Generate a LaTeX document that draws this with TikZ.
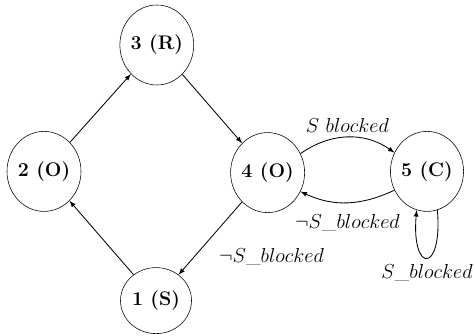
\documentclass[tikz,border=0pt]{standalone}
\usetikzlibrary{shapes.geometric}

\begin{document}
\begin{tikzpicture}[
  state/.style={ellipse,draw,minimum width=1.775cm,minimum height=2cm,inner sep=0pt,font=\fontsize{14}{17}\selectfont\bfseries},
  trans/.style={-latex,line width=0.6pt},
  lbl/.style={font=\fontsize{15}{18}\selectfont}
]
\useasboundingbox (0,0) rectangle (11.875,8.375);

\node[state] (s3) at (3.92,7.25) {3 (R)};
\node[state] (s2) at (1.1,4.09) {2 (O)};
\node[state] (s4) at (6.69,4.06) {4 (O)};
\node[state,minimum height=1.65cm] (s1) at (3.9,0.86) {1 (S)};
\node[state] (s5) at (10.675,4.09) {5 (C)};

\draw[trans] (s2) -- (s3);
\draw[trans] (s3) -- (s4);
\draw[trans] (s4) -- node[lbl,pos=0.75,right=14pt] {$\neg S\_blocked$} (s1);
\draw[trans] (s1) -- (s2);

\draw[trans] (s4.30) to[out=35,in=145] node[lbl,above] {$S\ blocked$} (s5.150);
\draw[trans] (s5.-150) to[out=-155,in=-25] node[lbl,below=5pt] {$\neg S\_blocked$} (s4.-30);
\draw[trans] (s5.-75) .. controls +(-85:1.6) and +(-95:1.6) .. (s5.-105)
  node[lbl,pos=0.5,below=1pt] {$S\_blocked$};
\end{tikzpicture}
\end{document}
